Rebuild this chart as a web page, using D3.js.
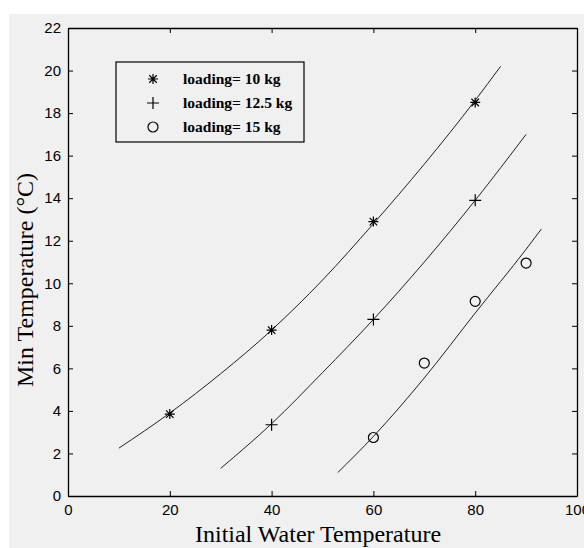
<!DOCTYPE html>
<html>
<head>
<meta charset="utf-8">
<script src="https://cdn.jsdelivr.net/npm/d3@7"></script>
<style>
  body { margin: 0; background: #ffffff; }
  svg { display: block; }
</style>
</head>
<body>
<svg id="chart" width="584" height="548"></svg>
<script>
// measured points
const x10 = [20, 40, 60, 80];
const y10 = [3.85, 7.8, 12.9, 18.5];
const x125 = [40, 60, 80];
const y125 = [3.35, 8.3, 13.9];
const x15 = [60, 70, 80, 90];
const y15 = [2.75, 6.25, 9.15, 10.95];

// fitted curves
const fitX10 = [10, 20, 30, 40, 50, 60, 70, 80, 85];
const fitY10 = [2.25, 3.9, 5.75, 7.8, 10.15, 12.8, 15.6, 18.6, 20.2];
const fitX125 = [30, 40, 50, 60, 70, 80, 90];
const fitY125 = [1.3, 3.4, 5.8, 8.3, 11.0, 13.9, 17.0];
const fitX15 = [53, 60, 70, 80, 90, 93];
const fitY15 = [1.1, 2.8, 5.55, 8.6, 11.6, 12.55];

const xTicks = [0, 20, 40, 60, 80, 100];
const yTicks = [0, 2, 4, 6, 8, 10, 12, 14, 16, 18, 20, 22];
const legendLabels = ['loading= 10 kg', 'loading= 12.5 kg', 'loading= 15 kg'];

const svg = d3.select('#chart');
const plot = { left: 68, right: 577, top: 28, bottom: 496 };

// figure background
svg.append('rect')
    .attr('x', 9).attr('y', 14)
    .attr('width', 575).attr('height', 534)
    .attr('fill', '#f0f0f0');

const x = d3.scaleLinear().domain([0, 100]).range([plot.left, plot.right]);
const y = d3.scaleLinear().domain([0, 22]).range([plot.bottom, plot.top]);

const tickFont = '"Liberation Sans", Arial, sans-serif';
const serif = '"Liberation Serif", "Times New Roman", serif';

// bottom axis
const xAxis = svg.append('g')
    .attr('transform', `translate(0,${plot.bottom})`)
    .call(d3.axisBottom(x).tickValues(xTicks).tickSizeInner(-5).tickSizeOuter(0).tickPadding(8));
// left axis
const yAxis = svg.append('g')
    .attr('transform', `translate(${plot.left},0)`)
    .call(d3.axisLeft(y).tickValues(yTicks).tickSizeInner(-5).tickSizeOuter(0).tickPadding(7));
// top and right axes, ticks only
svg.append('g')
    .attr('transform', `translate(0,${plot.top})`)
    .call(d3.axisTop(x).tickValues(xTicks).tickSizeInner(-5).tickSizeOuter(0).tickFormat(''));
svg.append('g')
    .attr('transform', `translate(${plot.right},0)`)
    .call(d3.axisRight(y).tickValues(yTicks).tickSizeInner(-5).tickSizeOuter(0).tickFormat(''));

svg.selectAll('.domain').attr('stroke', '#000').attr('stroke-width', 1.3);
svg.selectAll('.tick line').attr('stroke', '#000');
svg.selectAll('.tick text')
    .style('font-family', tickFont)
    .style('font-size', '15px')
    .attr('fill', '#000');

// axis titles
svg.append('text')
    .attr('x', 318)
    .attr('y', 542)
    .attr('text-anchor', 'middle')
    .style('font-family', serif)
    .style('font-size', '24px')
    .text('Initial Water Temperature');

svg.append('text')
    .attr('transform', 'translate(33,280) rotate(-90)')
    .attr('text-anchor', 'middle')
    .style('font-family', serif)
    .style('font-size', '24px')
    .text('Min Temperature (°C)');

// fitted lines
const line = d3.line().x(d => x(d[0])).y(d => y(d[1])).curve(d3.curveMonotoneX);
const fits = [
    d3.zip(fitX10, fitY10),
    d3.zip(fitX125, fitY125),
    d3.zip(fitX15, fitY15)
];
svg.selectAll('path.fit')
    .data(fits)
    .enter()
    .append('path')
    .attr('class', 'fit')
    .attr('d', line)
    .attr('fill', 'none')
    .attr('stroke', '#222')
    .attr('stroke-width', 1);

// markers
function drawStar(g, cx, cy) {
    const r = 5;
    g.append('path')
        .attr('d', `M${cx - r},${cy}H${cx + r}M${cx},${cy - r}V${cy + r}` +
            `M${cx - r * 0.75},${cy - r * 0.75}L${cx + r * 0.75},${cy + r * 0.75}` +
            `M${cx - r * 0.75},${cy + r * 0.75}L${cx + r * 0.75},${cy - r * 0.75}`)
        .attr('stroke', '#000').attr('stroke-width', 1.2).attr('fill', 'none');
}
function drawPlus(g, cx, cy) {
    const r = 6;
    g.append('path')
        .attr('d', `M${cx - r},${cy}H${cx + r}M${cx},${cy - r}V${cy + r}`)
        .attr('stroke', '#000').attr('stroke-width', 1.2).attr('fill', 'none');
}
function drawCircle(g, cx, cy) {
    g.append('circle')
        .attr('cx', cx).attr('cy', cy).attr('r', 5)
        .attr('stroke', '#000').attr('stroke-width', 1.2).attr('fill', 'none');
}

const marks = svg.append('g');
d3.zip(x10, y10).forEach(d => drawStar(marks, x(d[0]), y(d[1])));
d3.zip(x125, y125).forEach(d => drawPlus(marks, x(d[0]), y(d[1])));
d3.zip(x15, y15).forEach(d => drawCircle(marks, x(d[0]), y(d[1])));

// legend
const legend = svg.append('g');
legend.append('rect')
    .attr('x', 116).attr('y', 62)
    .attr('width', 188).attr('height', 80)
    .attr('fill', '#f0f0f0')
    .attr('stroke', '#000').attr('stroke-width', 1.2);
const markerFns = [drawStar, drawPlus, drawCircle];
legendLabels.forEach((label, i) => {
    const ly = 79 + i * 24;
    markerFns[i](legend, 153, ly);
    legend.append('text')
        .attr('x', 183)
        .attr('y', ly + 5)
        .style('font-family', serif)
        .style('font-size', '15.5px')
        .style('font-weight', 'bold')
        .text(label);
});
</script>
</body>
</html>
